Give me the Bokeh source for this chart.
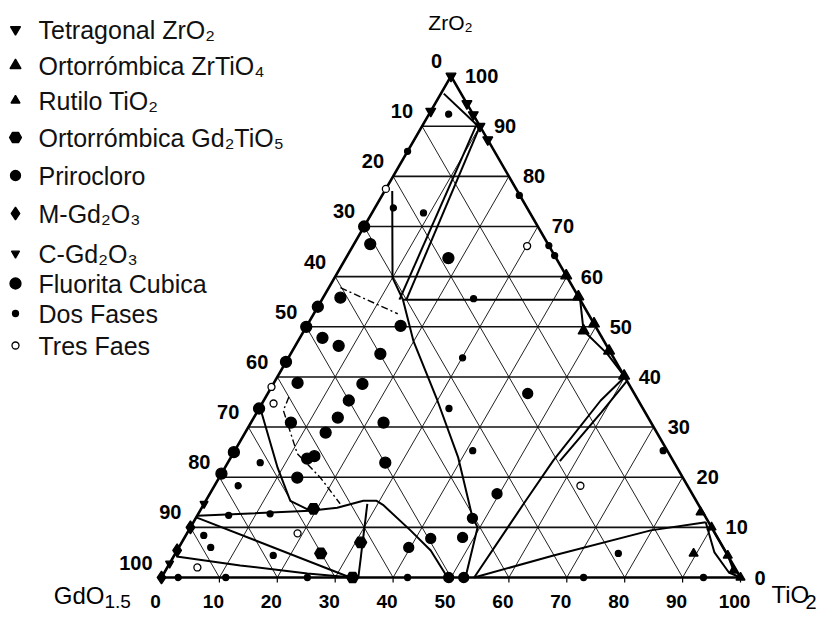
import math
from bokeh.plotting import figure
from bokeh.models import Range1d
from bokeh.embed import file_html
from bokeh.resources import INLINE
from bokeh.core.properties import value

# ---------------- data ----------------
grid_levels = [10, 20, 30, 40, 50, 60, 70, 80, 90]
tick_values = [0, 10, 20, 30, 40, 50, 60, 70, 80, 90, 100]
left_tick_labels = ["0", "10", "20", "30", "40", "50", "60", "70", "80", "90", "100"]   # GdO1.5 %
right_tick_labels = ["0", "10", "20", "30", "40", "50", "60", "70", "80", "90", "100"]  # ZrO2 %
bottom_tick_labels = ["0", "10", "20", "30", "40", "50", "60", "70", "80", "90", "100"] # TiO2 %

legend_names = ["Tetragonal ZrO₂", "Ortorrómbica ZrTiO₄", "Rutilo TiO₂", "Ortorrómbica Gd₂TiO₅",
                "Prirocloro", "M-Gd₂O₃", "C-Gd₂O₃", "Fluorita Cubica", "Dos Fases", "Tres Faes"]

# points: (TiO2 %, ZrO2 %)
tetragonal_ti = [0, 5.5, 7.7, 10, 12.7, 0]
tetragonal_zr = [100, 94.5, 92.3, 90, 87.3, 93]
zrtio4_ti = [44, 48.3, 49.4, 54.7, 59.8, 39.8]
zrtio4_zr = [56, 49.2, 50.6, 45.2, 40.2, 60.2]
rutilo_ti = [100, 98.1, 95.6, 90, 89.5, 86.6]
rutilo_zr = [0, 1.4, 4.4, 10, 4.8, 13]
gd2tio5_ti = [33, 30.9, 25.1, 19.4]
gd2tio5_zr = [0, 7, 4.8, 13.7]
piro_ti = [49.6, 52.2, 47.8, 42.6, 48, 49.6, 44.9, 39.7]
piro_zr = [0, 0, 11.8, 7.8, 8, 16.7, 36.7, 6]
mgd_ti = [0, 0, 0]
mgd_zr = [0, 10, 5.4]
cgd_ti = [0, 0]
cgd_zr = [2.8, 14.7]
fluor_ti = [3, 3.9, 7.5, 16.2, 15.5, 4.1, 15.4, 14.7, 14.5, 22.9, 6.9, 13.9, 27.2, 13.5, 13.3, 14.3,
            2.8, 17.7, 0, 0, 0, 0, 0, 0, 0]
fluor_zr = [55.8, 47.8, 46.2, 50.2, 44.6, 38.8, 38.6, 35.3, 31.9, 30.9, 30.9, 28.9, 22.9, 19.9, 23.7, 24.2,
            66.5, 63.7, 54, 50, 43, 33.7, 70, 25, 20.7]
dos_ti = [3.4, 0, 3.2, 8.9, 23.7, 33.8, 35.8, 26.1, 30.1, 32.8, 41.1, 5.6, 4.1, 12.4, 5.4, 5.5, 3.1,
          17.1, 76.5, 74, 2.9, 11.1, 25.2, 42.5, 72.9, 93.6]
dos_zr = [92.4, 85, 73.7, 72.7, 76.2, 66.2, 64.2, 55.6, 43.8, 33.7, 25.3, 22.9, 18.3, 12.7, 12.4, 6, 8.4,
          4.4, 4.8, 25.3, 0, 0, 0, 0, 0, 0]
tres_ti = [0, 30.1, 63.2, 19.1, 5.2, 0, 2]
tres_zr = [77.5, 66.1, 18.3, 8.8, 2, 38, 34.7]

# phase boundaries (TiO2 %, ZrO2 %)
boundaries = [
    ([0.5, 9], [96.5, 90.5]),
    ([10, 14.6], [90, 55.4]),
    ([9.3, 13.4], [90, 55.4]),
    ([1.3, 10, 14], [77.1, 59.8, 55.4]),
    ([14, 44.6], [55.4, 55.4]),
    ([44.6, 48.3, 54.7, 59.8], [55.4, 49.2, 44.6, 40.2]),
    ([14, 19.9, 30, 39.3, 47.7, 49.6, 52.5], [55.4, 47.2, 35.3, 23.9, 12, 10, 0]),
    ([60, 58.2, 56, 55.2, 54], [40, 35.3, 23.3, 14.7, 0]),
    ([60.8, 59.5, 57.2], [39.2, 33, 23.2]),
    ([54, 65.5, 79.8, 88.5], [0, 4.4, 9.4, 11]),
    ([88.5, 93, 97.5, 100], [11, 5, 1, 0]),
    ([90, 95.6, 98.1], [10, 4.4, 1.4]),
    ([0, 19, 23.4, 27.2, 29.5, 31, 38.3, 43.8, 49.4], [12.3, 13.3, 13.9, 15.3, 15.3, 14.5, 9.4, 5.4, 0]),
    ([28.2, 34], [14.7, 0]),
    ([0, 32.6], [12, 0]),
    ([0.5, 12.4, 24.8, 33], [4.2, 2.4, 0.8, 0]),
    ([0, 9.1, 14.6, 19.1], [34, 21.9, 15.3, 13.3]),
]
dashed_boundaries = [
    ([2, 14.5], [57.8, 52.6]),
    ([4, 4.4, 11.1, 17.5, 23.5], [36, 33.3, 24.7, 19.9, 14.7]),
]

# ---------------- geometry ----------------
S3 = math.sqrt(3) / 2.0
W, H = 819, 613
PX = 5.79
ORG = 0  # canvas origin in the picture
X0 = -(161 - ORG) / PX
Y0 = -((ORG + H) - 577) / PX
X1 = X0 + W / PX
Y1 = Y0 + H / PX


def tern(ti, zr):
    return ti + zr / 2.0, zr * S3


def tern_list(tis, zrs):
    xs, ys = [], []
    for a, b in zip(tis, zrs):
        x, y = tern(a, b)
        xs.append(x)
        ys.append(y)
    return xs, ys


def page(xp, yp):
    return X0 + (xp - ORG) / PX, Y1 - (yp - ORG) / PX


FONT = "Liberation Sans"

p = figure(width=W, height=H, x_range=Range1d(X0, X1), y_range=Range1d(Y0, Y1),
           output_backend="svg", toolbar_location=None, min_border=0,
           x_axis_location=None, y_axis_location=None)
p.grid.visible = False
p.outline_line_color = None
p.background_fill_color = "white"

# grid
gx, gy = [], []
hx, hy = [], []
for k in grid_levels:
    a = tern_list([0, 100 - k], [k, k]); hx.append(a[0]); hy.append(a[1])
    b = tern_list([k, k], [0, 100 - k]); gx.append(b[0]); gy.append(b[1])
    c = tern_list([100 - k, 0], [0, 100 - k]); gx.append(c[0]); gy.append(c[1])
p.multi_line(gx, gy, line_color="#222222", line_width=1)
p.multi_line(hx, hy, line_color="#111111", line_width=1.6)

# bottom ticks
tx, ty = [], []
for v in tick_values:
    x, y = tern(v, 0)
    tx.append([x, x]); ty.append([y, y - 5 / PX])
p.multi_line(tx, ty, line_color="black", line_width=1.2)

# triangle edges
ex, ey = tern_list([0, 100, 0, 0], [0, 0, 100, 0])
p.line(ex, ey, line_color="black", line_width=2.6)

# boundaries
for ti, zr in boundaries:
    xs, ys = tern_list(ti, zr)
    p.line(xs, ys, line_color="black", line_width=2)
for ti, zr in dashed_boundaries:
    xs, ys = tern_list(ti, zr)
    p.line(xs, ys, line_color="black", line_width=1.4, line_dash="7 3 2 3")

# markers
styles = [
    (tetragonal_ti, tetragonal_zr, "inverted_triangle", 10, "black"),
    (zrtio4_ti, zrtio4_zr, "triangle", 11, "black"),
    (rutilo_ti, rutilo_zr, "triangle", 9, "black"),
    (gd2tio5_ti, gd2tio5_zr, "hex", 12, "black"),
    (piro_ti, piro_zr, "circle", 10, "black"),
    (mgd_ti, mgd_zr, "diamond", 13, "black"),
    (cgd_ti, cgd_zr, "inverted_triangle", 8, "black"),
    (fluor_ti, fluor_zr, "circle", 11, "black"),
    (dos_ti, dos_zr, "circle", 6, "black"),
    (tres_ti, tres_zr, "circle", 7, "white"),
]
for ti, zr, mk, sz, fc in styles:
    xs, ys = tern_list(ti, zr)
    p.scatter(xs, ys, marker=mk, size=sz, fill_color=fc, line_color="black", line_width=1.3)

# legend (drawn manually)
legend_rows = [29, 65, 100, 137, 175, 213, 253, 283, 313, 345]
ltx, lty = [], []
for i, row in enumerate(legend_rows):
    mx, my = page(15, row)
    tx_, ty_ = page(38, row)
    ti, zr, mk, sz, fc = styles[i]
    p.scatter([mx], [my], marker=mk, size=sz, fill_color=fc, line_color="black", line_width=1.3)
    ltx.append(tx_); lty.append(ty_)
p.text(ltx, lty, text=legend_names, text_font=value(FONT), text_font_size="25px",
       text_align="left", text_baseline="middle", text_color="#111111")

# tick labels
lx, ly = [], []
for v in tick_values:
    x, y = tern(0, 100 - v)
    lx.append(x - 9 / PX); ly.append(y + 15 / PX)
p.text(lx, ly, text=left_tick_labels, text_font=value(FONT), text_font_size="20px",
       text_font_style="bold", text_align="right", text_baseline="middle")

rx, ry = [], []
for v in tick_values:
    x, y = tern(100 - v, v)
    rx.append(x + 14 / PX); ry.append(y)
p.text(rx, ry, text=right_tick_labels, text_font=value(FONT), text_font_size="20px",
       text_font_style="bold", text_align="left", text_baseline="middle")

bx, by = [], []
for v in tick_values:
    x, y = tern(v, 0)
    bx.append(x - 6 / PX); by.append(y - 24 / PX)
p.text(bx, by, text=bottom_tick_labels, text_font=value(FONT), text_font_size="19px",
       text_font_style="bold", text_align="center", text_baseline="middle")

# corner labels
zx, zy = page(450, 22)
p.text([zx], [zy], text=["ZrO₂"], text_font=value(FONT), text_font_size="21px",
       text_align="center", text_baseline="middle")
gx1, gy1 = page(104, 595)
p.text([gx1], [gy1], text=["GdO"], text_font=value(FONT), text_font_size="24px",
       text_align="right", text_baseline="middle")
gx2, gy2 = page(104, 601)
p.text([gx2], [gy2], text=["1.5"], text_font=value(FONT), text_font_size="19px",
       text_align="left", text_baseline="middle")
tx1, ty1 = page(771, 594)
p.text([tx1], [ty1], text=["TiO"], text_font=value(FONT), text_font_size="24px",
       text_align="left", text_baseline="middle")
tx2, ty2 = page(805, 601)
p.text([tx2], [ty2], text=["2"], text_font=value(FONT), text_font_size="20px",
       text_align="left", text_baseline="middle")

open("out.html", "w").write(file_html(p, INLINE))
